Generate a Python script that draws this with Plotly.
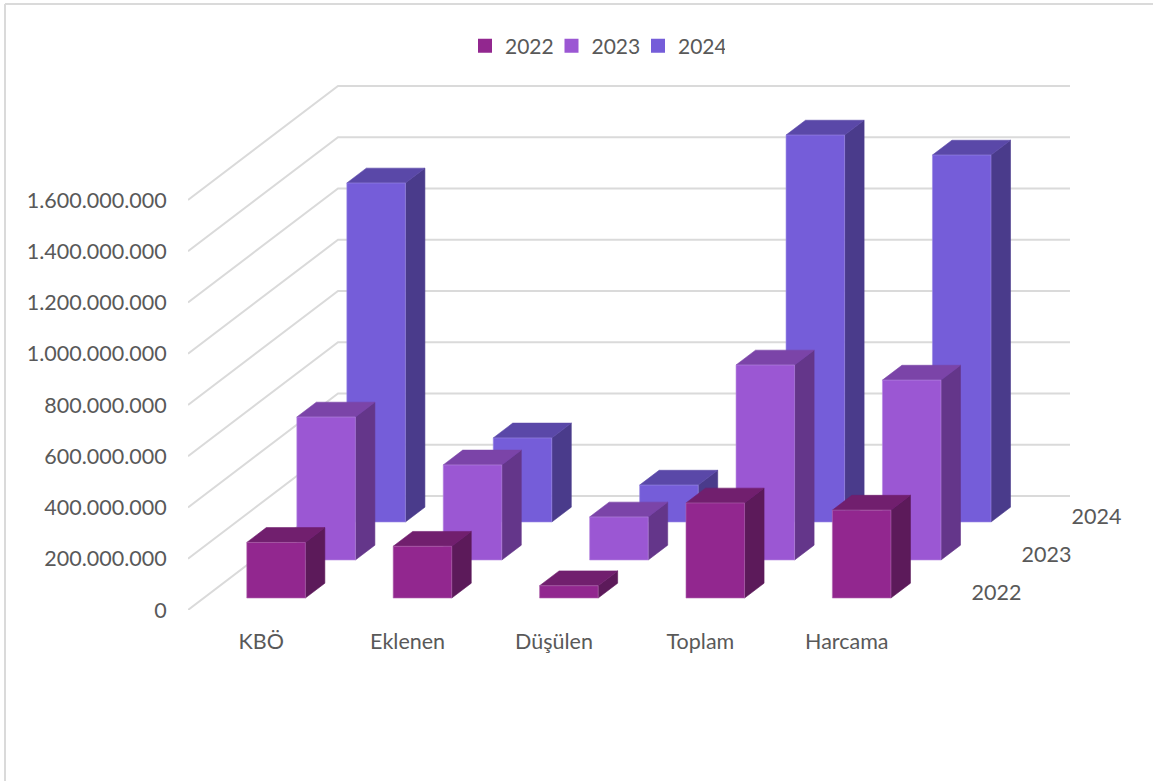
import plotly.graph_objects as go

categories = ['KBÖ', 'Eklenen', 'Düşülen', 'Toplam', 'Harcama']
series_names = ['2022', '2023', '2024']
values_2022 = [217000000, 202000000, 48000000, 371000000, 343000000]
values_2023 = [558000000, 371000000, 168000000, 761000000, 702000000]
values_2024 = [1323000000, 328000000, 144000000, 1510000000, 1432000000]
tick_values = [0, 200000000, 400000000, 600000000, 800000000, 1000000000, 1200000000, 1400000000, 1600000000]

front_colors = ['#92278F', '#9B57D3', '#755DD9']
top_colors = ['#711F6E', '#7B44A8', '#5A48A8']
side_colors = ['#5C1A5A', '#64368A', '#4A3B8B']
edge_colors = ['#B26AB0', '#B98CE0', '#9C8BE6']
font_color = '#595959'
grid_color = '#DADADA'
font = 'Lato'
font_size = 21.5

# plot area in pixels, everything else goes through the axes
W, H = 1153, 781
left, right, top, bottom = 188, 1150, 60, 610
px_per_cat = 146.4
val_per_px = 200000000 / 51.25

# oblique projection: depth 0 is the front of the walls, 1 the back wall
depth_dx = 150 / px_per_cat
depth_dy = 114 * val_per_px
series_depth = [0.105, 0.4386, 0.772]
bar_depth = 0.13
bar_left = -0.206
bar_width = 0.4


def project(x, v, d):
    return x + d * depth_dx, v + d * depth_dy


def polygons(faces):
    xs, ys = [], []
    for face in faces:
        for x, v, d in face:
            px, py = project(x, v, d)
            xs.append(px)
            ys.append(py)
        xs.append(None)
        ys.append(None)
    return xs, ys


fig = go.Figure()

# gridlines on side wall and back wall
gx, gy = [], []
for t in tick_values:
    for x, v, d in [(-0.5, t, 0), (-0.5, t, 1), (4.5, t, 1)]:
        px, py = project(x, v, d)
        gx.append(px)
        gy.append(py)
    gx.append(None)
    gy.append(None)
fig.add_trace(go.Scatter(x=gx, y=gy, mode='lines', line=dict(color=grid_color, width=2),
                         showlegend=False, hoverinfo='skip'))

all_values = [values_2022, values_2023, values_2024]

# back series first so the front ones cover them
for s in [2, 1, 0]:
    d0 = series_depth[s]
    d1 = d0 + bar_depth
    fronts, tops, sides = [], [], []
    for i, val in enumerate(all_values[s]):
        x0 = i + bar_left
        x1 = x0 + bar_width
        fronts.append([(x0, 0, d0), (x1, 0, d0), (x1, val, d0), (x0, val, d0), (x0, 0, d0)])
        tops.append([(x0, val, d0), (x1, val, d0), (x1, val, d1), (x0, val, d1), (x0, val, d0)])
        sides.append([(x1, 0, d0), (x1, 0, d1), (x1, val, d1), (x1, val, d0), (x1, 0, d0)])
    for faces, color, line in [(sides, side_colors[s], side_colors[s]),
                               (tops, top_colors[s], top_colors[s]),
                               (fronts, front_colors[s], edge_colors[s])]:
        xs, ys = polygons(faces)
        fig.add_trace(go.Scatter(x=xs, y=ys, mode='lines', fill='toself', fillcolor=color,
                                 line=dict(color=line, width=0.6), showlegend=False, hoverinfo='skip'))

# legend entries
for s in range(3):
    fig.add_trace(go.Scatter(x=[None], y=[None], mode='markers', name=series_names[s],
                             marker=dict(symbol='square', size=14, color=front_colors[s])))

# depth axis labels
lx, ly = [], []
for d in series_depth:
    px, py = project(4.915, 15000000, d)
    lx.append(px)
    ly.append(py)
fig.add_trace(go.Scatter(x=lx, y=ly, mode='text', text=series_names, textposition='middle center',
                         textfont=dict(family=font, size=font_size, color=font_color),
                         showlegend=False, hoverinfo='skip', cliponaxis=False))

fig.update_layout(
    width=W,
    height=H,
    autosize=False,
    margin=dict(l=left, r=W - right, t=top, b=H - bottom),
    paper_bgcolor='white',
    plot_bgcolor='white',
    separators=',.',
    font=dict(family=font, size=font_size, color=font_color),
    legend=dict(orientation='h', x=(595 - left) / (right - left), xanchor='center',
                y=1 + (top - 46) / (bottom - top), yanchor='middle',
                font=dict(family=font, size=21, color=font_color),
                entrywidth=41.5, traceorder='normal', bgcolor='rgba(0,0,0,0)'),
    xaxis=dict(range=[-0.5, -0.5 + (right - left) / px_per_cat], tickmode='array',
               tickvals=list(range(5)), ticktext=categories, showgrid=False, zeroline=False,
               showline=False, ticks='outside', ticklen=12, tickcolor='rgba(0,0,0,0)'),
    yaxis=dict(range=[0, (bottom - top) * val_per_px], tickmode='array', tickvals=tick_values,
               tickformat=',d', showgrid=False, zeroline=False, showline=False,
               ticks='outside', ticklen=16, tickcolor='rgba(0,0,0,0)'),
    shapes=[
        dict(type='line', xref='paper', yref='paper',
             x0=(5 - left) / (right - left), x1=(W - left) / (right - left),
             y0=1 + (top - 4) / (bottom - top), y1=1 + (top - 4) / (bottom - top),
             line=dict(color=grid_color, width=2)),
        dict(type='line', xref='paper', yref='paper',
             x0=(5 - left) / (right - left), x1=(5 - left) / (right - left),
             y0=1 + (top - 4) / (bottom - top), y1=(bottom - H) / (bottom - top),
             line=dict(color=grid_color, width=2)),
    ],
)

fig.write_html("out.html", config=dict(displayModeBar=False),
               post_script="document.body.style.margin='0';document.body.style.overflow='hidden';")
